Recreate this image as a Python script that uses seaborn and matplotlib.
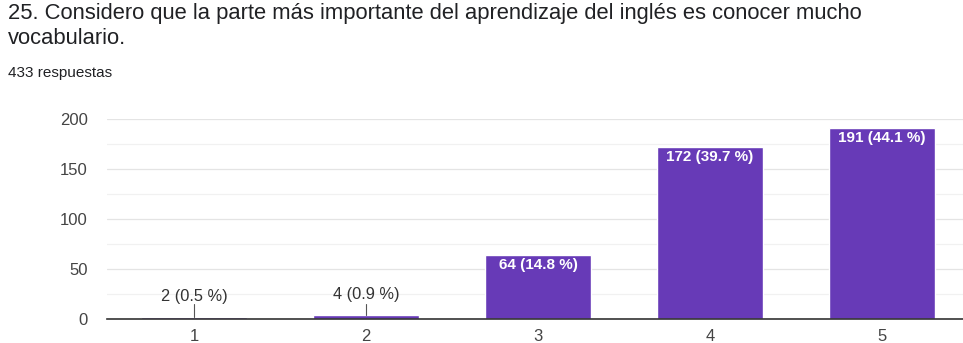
import matplotlib
matplotlib.use("Agg")
import matplotlib.pyplot as plt
import seaborn as sns
import pandas as pd
from matplotlib.ticker import MultipleLocator

categories = ["1", "2", "3", "4", "5"]
counts = [2, 4, 64, 172, 191]
percents = [0.5, 0.9, 14.8, 39.7, 44.1]
title_line1 = "25. Considero que la parte más importante del aprendizaje del inglés es conocer mucho"
title_line2 = "vocabulario."
subtitle = "433 respuestas"

df = pd.DataFrame({"cat": categories, "count": counts})

sns.set_theme(style="white")
plt.rcParams['font.family'] = ['Liberation Sans', 'DejaVu Sans']

W, H = 963, 343
fig = plt.figure(figsize=(W / 100, H / 100), dpi=100)
ax = fig.add_axes([107 / W, (H - 319) / H, (963 - 107) / W, 200 / H])

purple = "#673ab7"
sns.barplot(data=df, x="cat", y="count", color=purple, saturation=1, width=0.62, ax=ax)

ax.set_xlim(-0.506, 4.47)
ax.set_ylim(0, 200)
ax.yaxis.set_major_locator(MultipleLocator(50))
ax.yaxis.set_minor_locator(MultipleLocator(25))
ax.grid(axis="y", which="major", color="#e4e4e4", lw=0.9)
ax.grid(axis="y", which="minor", color="#f1f1f1", lw=0.9)
ax.set_axisbelow(True)
for s in ["top", "right", "left"]:
    ax.spines[s].set_visible(False)
ax.spines["bottom"].set_color("#333333")
ax.spines["bottom"].set_linewidth(1.2)
ax.set_xlabel("")
ax.set_ylabel("")
ax.tick_params(axis="y", which="both", length=0, labelsize=12, labelcolor="#444444", pad=14)
ax.tick_params(axis="x", length=0, labelsize=12, labelcolor="#444444", pad=7)

for i, (c, p) in enumerate(zip(counts, percents)):
    label = f"{c} ({p} %)"
    if c > 30:
        ax.text(i, c - 10, label, ha="center", va="center", color="white",
                fontsize=11, fontweight="bold")
    else:
        ax.plot([i, i], [c, 15], color="#555555", lw=0.8)
        ax.text(i, c + 20, label, ha="center", va="center", color="#333333", fontsize=11.8)

fig.text(8 / W, 1 - 19 / H, title_line1, fontsize=15.8, color="#202124", ha="left", va="baseline")
fig.text(8 / W, 1 - 44 / H, title_line2, fontsize=15.8, color="#202124", ha="left", va="baseline")
fig.text(8 / W, 1 - 77 / H, subtitle, fontsize=11, color="#202124", ha="left", va="baseline")

fig.savefig("out.png", dpi=100)
